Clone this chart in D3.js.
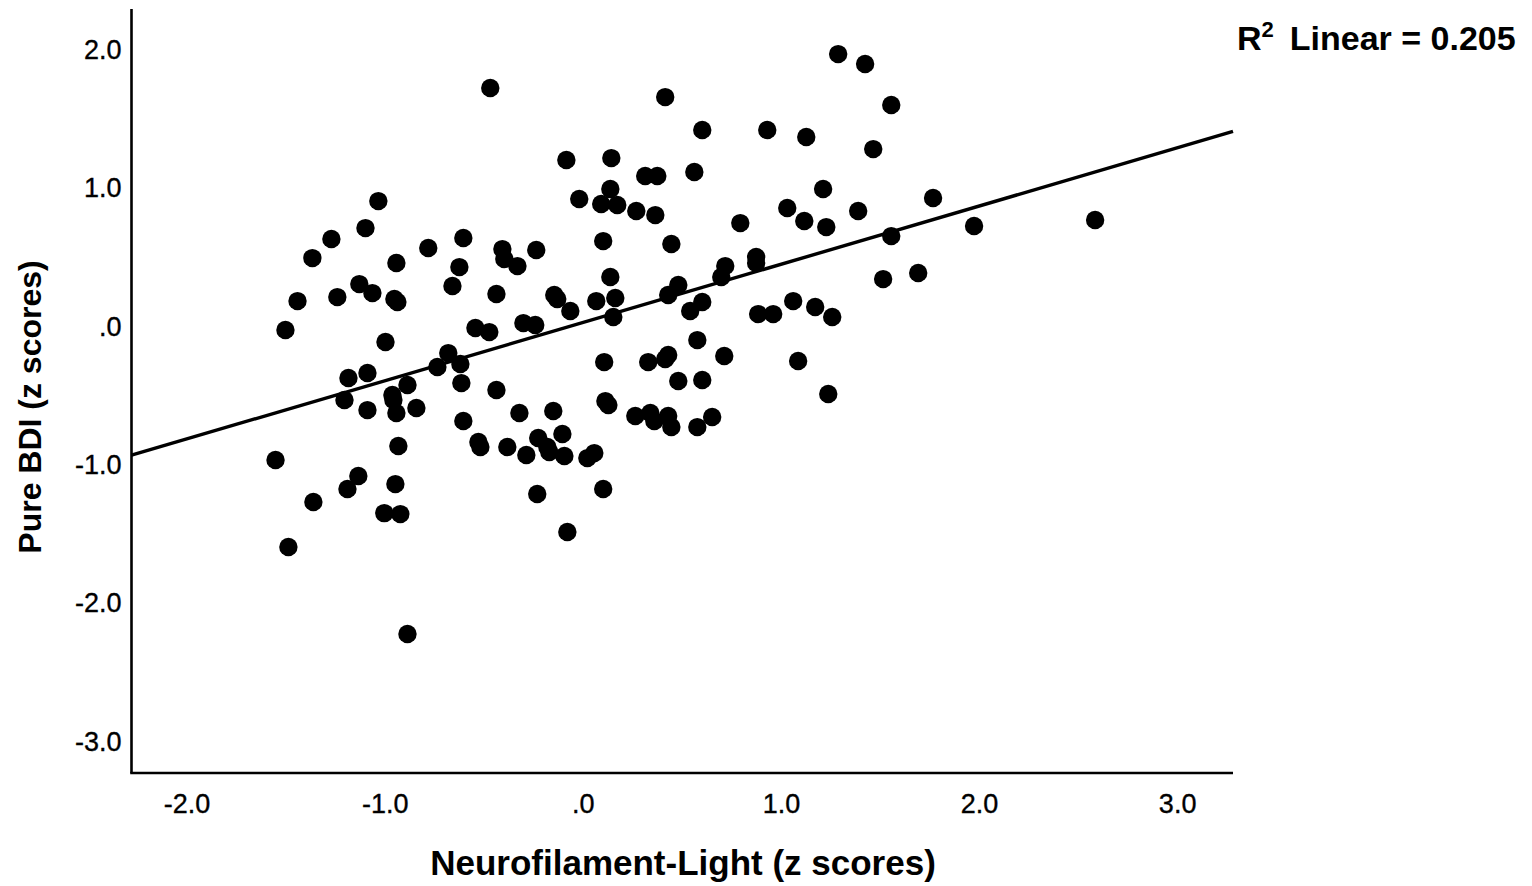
<!DOCTYPE html>
<html>
<head>
<meta charset="utf-8">
<script src="https://cdn.jsdelivr.net/npm/d3@7"></script>
<style>
  html, body { margin: 0; padding: 0; background: #fff; }
  svg { display: block; }
  text { font-family: "Liberation Sans", Arial, sans-serif; fill: #000; }
</style>
</head>
<body>
<script>
// ---- Data ----
const nflZ = [
  -0.467, 1.289, 1.425, 1.557, 0.416, 0.603, 0.931, 1.128, 1.466, -0.083,
  0.144, 0.315, 0.376, 0.563, 0.139, 1.213, -1.032, -0.018, 0.093, 0.174,
  0.270, 0.366, 1.768, 0.795, 1.032, 1.118, 1.390, 1.229, 1.975, 2.586,
  -1.097, -1.269, -0.603, 0.103, 0.447, 1.557, -0.780, -0.406, -0.235, -1.365,
  -0.396, -0.330, -0.941, -0.623, 0.875, 0.875, 0.719, 0.699, 0.139, 1.693,
  1.516, -1.128, -0.658, -1.062, -1.239, -1.440, -0.436, -0.144, -0.129, 0.068,
  0.164, -0.951, -0.936, 0.431, 0.482, 0.603, 0.542, -0.063, 0.154, 0.885,
  0.961, 1.062, 1.173, 1.259, -1.501, -0.542, -0.472, -0.300, -0.240, 0.578,
  -0.996, -0.679, -0.734, -0.618, 0.108, 0.330, 0.416, 0.431, 0.714, 1.087,
  -1.183, -1.087, -0.613, -0.885, -0.436, -0.961, -0.956, -1.203, 1.239, 0.482,
  0.603, 0.114, 0.129, -0.840, -1.087, -0.941, -0.149, -0.320, 0.265, 0.341,
  0.361, 0.431, 0.447, 0.578, 0.653, -0.603, -0.103, -0.225, -0.527, -0.517,
  -0.381, -0.931, -0.179, -0.169, -0.093, -0.285, -1.551, 0.023, 0.058, -1.133,
  -1.188, -0.946, 0.103, -1.360, -0.230, -1.002, -0.921, -0.078, -1.486, -0.885
];
const bdiZ = [
  1.725, 1.970, 1.898, 1.602, 1.659, 1.421, 1.421, 1.370, 1.283, 1.204,
  1.218, 1.088, 1.088, 1.117, 0.994, 0.994, 0.907, 0.922, 0.886, 0.879,
  0.835, 0.806, 0.929, 0.748, 0.857, 0.763, 0.835, 0.719, 0.727, 0.770,
  0.712, 0.633, 0.640, 0.618, 0.597, 0.654, 0.568, 0.560, 0.553, 0.495,
  0.488, 0.437, 0.459, 0.430, 0.503, 0.459, 0.437, 0.358, 0.358, 0.387,
  0.343, 0.307, 0.293, 0.242, 0.213, 0.184, 0.235, 0.228, 0.199, 0.184,
  0.206, 0.199, 0.177, 0.228, 0.300, 0.177, 0.112, 0.112, 0.069, 0.090,
  0.090, 0.184, 0.141, 0.069, -0.025, -0.011, -0.040, 0.025, 0.011, -0.098,
  -0.112, -0.192, -0.293, -0.271, -0.257, -0.257, -0.235, -0.206, -0.213, -0.249,
  -0.372, -0.336, -0.409, -0.423, -0.459, -0.495, -0.531, -0.531, -0.488, -0.394,
  -0.387, -0.539, -0.568, -0.589, -0.604, -0.625, -0.611, -0.625, -0.647, -0.625,
  -0.683, -0.647, -0.727, -0.727, -0.654, -0.683, -0.777, -0.806, -0.835, -0.871,
  -0.871, -0.864, -0.871, -0.907, -0.936, -0.929, -0.965, -0.951, -0.915, -1.081,
  -1.175, -1.139, -1.175, -1.269, -1.211, -1.349, -1.356, -1.486, -1.594, -2.223
];
const xTicks = [-2, -1, 0, 1, 2, 3];
const yTicks = [2, 1, 0, -1, -2, -3];
const fitSlope = 0.421;
const fitIntercept = 0.029;
const r2Label = "0.205";
const xTitle = "Neurofilament-Light (z scores)";
const yTitle = "Pure BDI (z scores)";

// ---- Layout ----
const W = 1532, H = 886;
const xDomain = [-2.278, 3.282];
const yDomain = [-3.228, 2.296];
const x = d3.scaleLinear().domain(xDomain).range([131.5, 1233]);
const y = d3.scaleLinear().domain(yDomain).range([773, 9]);

const fmt = v => {
  const s = d3.format(".1f")(v);
  return s.replace(/^0\./, ".").replace(/^-0\./, ".").replace("−", "-");
};

const svg = d3.select("body").append("svg")
  .attr("width", W).attr("height", H);

// Points
const pts = nflZ.map((v, i) => ({ x: v, y: bdiZ[i] }));
svg.append("g").selectAll("circle").data(pts).join("circle")
  .attr("cx", d => x(d.x)).attr("cy", d => y(d.y))
  .attr("r", 9.2).attr("fill", "#000");

// Fit line
svg.append("line")
  .attr("x1", x(xDomain[0])).attr("y1", y(fitIntercept + fitSlope * xDomain[0]))
  .attr("x2", x(xDomain[1])).attr("y2", y(fitIntercept + fitSlope * xDomain[1]))
  .attr("stroke", "#000").attr("stroke-width", 3.4);

// Axes
const xAxis = d3.axisBottom(x).tickValues(xTicks).tickFormat(fmt).tickSize(0).tickPadding(21);
const yAxis = d3.axisLeft(y).tickValues(yTicks).tickFormat(fmt).tickSize(0).tickPadding(10);

const gx = svg.append("g").attr("transform", "translate(0,773)").call(xAxis);
const gy = svg.append("g").attr("transform", "translate(131.5,0)").call(yAxis);
[gx, gy].forEach(g => {
  g.select(".domain").attr("stroke", "#000").attr("stroke-width", 2.6);
  g.selectAll("text").attr("font-size", 27).attr("font-family", "Liberation Sans, Arial, sans-serif")
    .attr("fill", "#000").attr("stroke", "#000").attr("stroke-width", 0.35);
});
gx.select(".domain").attr("d", `M${x(xDomain[0]) - 1.3},0H${x(xDomain[1])}`);
gy.select(".domain").attr("d", `M0,${y(yDomain[1])}V${y(yDomain[0])}`);

// Titles
svg.append("text")
  .attr("x", 683).attr("y", 875)
  .attr("text-anchor", "middle")
  .attr("font-weight", "bold").attr("font-size", 35)
  .text(xTitle);

svg.append("text")
  .attr("transform", "translate(41,407) rotate(-90)")
  .attr("text-anchor", "middle")
  .attr("font-weight", "bold").attr("font-size", 32)
  .text(yTitle);

// R² label
const r2 = svg.append("text")
  .attr("x", 1237).attr("y", 50)
  .attr("font-weight", "bold").attr("font-size", 34);
r2.append("tspan").text("R");
r2.append("tspan").attr("dy", -13).attr("font-size", 22).text("2");
r2.append("tspan").attr("dy", 13).attr("dx", 16).text("Linear = " + r2Label);
</script>
</body>
</html>
